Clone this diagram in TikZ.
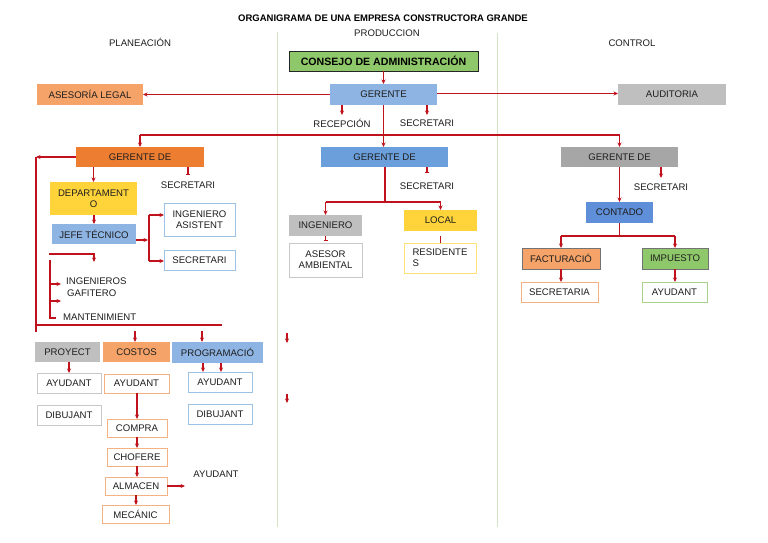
\documentclass[tikz,border=0pt]{standalone}
\usepackage{fontspec}
\setmainfont{Liberation Sans}
\usetikzlibrary{arrows.meta,calc}
\definecolor{arrred}{HTML}{C0121C}
\definecolor{txt}{HTML}{1E1E1E}
\definecolor{cgreen}{HTML}{8FC86A}
\definecolor{cgreenbd}{HTML}{A9D18E}
\definecolor{cblue}{HTML}{8EB4E3}
\definecolor{cbluebd}{HTML}{9DC3E6}
\definecolor{cblueM}{HTML}{6A9FDB}
\definecolor{cblueC}{HTML}{5F8FD8}
\definecolor{corange}{HTML}{F5A368}
\definecolor{corangeD}{HTML}{ED7D31}
\definecolor{corangebd}{HTML}{F4B183}
\definecolor{cgray}{HTML}{BFBFBF}
\definecolor{cgrayD}{HTML}{A6A6A6}
\definecolor{cgraybd}{HTML}{C8C8C8}
\definecolor{cyellow}{HTML}{FFD43B}
\definecolor{cyellowbd}{HTML}{FFE07A}
\definecolor{csep}{HTML}{D6E2C4}
\newcommand\fs{\fontsize{9.6}{10.8}\selectfont}
\newcommand\obox[7]{\node[box,#6,minimum width={(#4-#2)*1pt},minimum height={(#5-#3)*1pt}] (#1) at ({(#2+#4)/2},{(#3+#5)/2}) {#7};}
\tikzset{
  box/.style={inner sep=0pt,outer sep=0pt,font=\fs,text=txt,line width=0.9pt},
  lbl/.style={inner sep=0pt,font=\fs,text=txt},
  ln/.style={draw=arrred,line width=1.1pt},
  arr/.style={draw=arrred,line width=1.1pt,-{Stealth[length=4.5pt,width=4pt]}},
  tee/.style={draw=arrred,line width=1.1pt,-{Bar[width=4pt,line width=1.1pt]}},
  sep/.style={draw=csep,line width=0.8pt}
}
\begin{document}
\begin{tikzpicture}[x=1pt,y=-1pt]
\useasboundingbox[fill=white] (0,0) rectangle (768,543);
% separators
\draw[sep] (277,32) -- (277,527);
\draw[sep] (497,33) -- (497,527);
% titles
\node[inner sep=0pt,font=\bfseries\fontsize{9.5}{11}\selectfont,text=black] (title) at (383,18) {ORGANIGRAMA DE UNA EMPRESA CONSTRUCTORA GRANDE};
\node[lbl] (tprod) at (387,33) {PRODUCCION};
\node[lbl] (tplan) at (140,42) {PLANEACIÓN};
\node[lbl] (tctrl) at (632,43) {CONTROL};
% top
\obox{consejo}{289}{51}{478}{71}{fill=cgreen,draw=black!85,line width=0.7pt,font=\bfseries\fontsize{10.6}{12}\selectfont,text=black}{CONSEJO DE ADMINISTRACIÓN}
\obox{gerente}{330}{84}{437}{105}{fill=cblue}{GERENTE}
\obox{legal}{37}{84}{143}{105}{fill=corange}{ASESORÍA LEGAL}
\obox{audit}{618}{84}{726}{105}{fill=cgray}{AUDITORIA}
\draw[arr] (consejo.south -| gerente.north) -- (gerente.north);
\draw[arr] (gerente.west) -- (legal.east);
\draw[arr] ([yshift=1pt]gerente.east) -- ([yshift=1pt]audit.west);
\node[lbl] (recep) at (342,123) {RECEPCIÓN};
\node[lbl] (secg) at (427,123) {SECRETARI};
\draw[arr] (gerente.south -| recep) -- ++(0,10);
\draw[arr] (gerente.south -| secg) -- ++(0,10);
% managers
\obox{gplan}{76}{147}{204}{167}{fill=corangeD}{GERENTE DE}
\obox{gprod}{321}{147}{448}{167}{fill=cblueM}{GERENTE DE}
\obox{gctrl}{561}{147}{678}{167}{fill=cgrayD}{GERENTE DE}
\coordinate (bus) at (385,135);
\draw[arr] (gerente.south) -- (gerente.south |- gprod.north);
\draw[ln] (bus -| gplan.north) -- (bus -| gctrl.north);
\draw[arr] (bus -| gplan.north) -- (gplan.north);
\draw[arr] (bus -| gctrl.north) -- (gctrl.north);
% planeacion
\coordinate (lt) at (36,157);
\coordinate (lb) at (36,332);
\coordinate (bl) at (36,325);
\coordinate (br) at (222,325);
\draw[arr] (gplan.west) -- (lt);
\draw[ln] (lt) -- (lb);
\draw[ln] (bl) -- (br);
\obox{dept}{50}{182}{137}{215}{fill=cyellow,align=center}{DEPARTAMENT\\O}
\draw[arr] (gplan.south -| dept.north) -- (dept.north);
\node[lbl] (sec1) at (188,185) {SECRETARI};
\draw[tee] (gplan.south -| sec1) -- ++(0,8);
\obox{jefe}{52}{224}{136}{244}{fill=cblue}{JEFE TÉCNICO}
\draw[arr] (dept.south -| jefe.north) -- (jefe.north);
\obox{ingas}{164}{203}{235}{236}{draw=cbluebd,fill=white,align=center}{INGENIERO\\ASISTENT}
\obox{sec2}{164}{250}{235}{270}{draw=cbluebd,fill=white}{SECRETARI}
\coordinate (jt) at (149,215);
\coordinate (jb) at (149,261);
\draw[arr] ([yshift=-6pt]jefe.east) -- ++(12,0);
\draw[ln] (jt) -- (jb);
\draw[arr] (jt) -- (jt -| ingas.west);
\draw[arr] (jb) -- (jb -| sec2.west);
\coordinate (uj) at (49,254);
\coordinate (uk) at (94,262);
\draw[arr] (uj) -| (uk);
\coordinate (vt) at (50,260);
\coordinate (vb) at (50,318);
\coordinate (vf) at (56,318);
\draw[ln] (vt) -- (vb) -- (vf);
\coordinate (v1) at (50,284);
\coordinate (v1e) at (61,284);
\coordinate (v2) at (50,301);
\coordinate (v2e) at (61,301);
\draw[arr] (v1) -- (v1e);
\draw[arr] (v2) -- (v2e);
\node[lbl,anchor=west] (ingen) at (66,281) {INGENIEROS};
\node[lbl,anchor=west] (gafit) at (67,293) {GAFITERO};
\node[lbl,anchor=west] (mant) at (63,317) {MANTENIMIENT};
% bottom row
\obox{proy}{35}{342}{100}{362}{fill=cgray}{PROYECT}
\obox{costos}{103}{342}{170}{362}{fill=corange}{COSTOS}
\obox{prog}{172}{342}{263}{363}{fill=cblue}{PROGRAMACIÓ}
\coordinate (c1) at (135,331);
\coordinate (c2) at (202,331);
\draw[arr] (c1) -- (c1 |- costos.north);
\draw[arr] (c2) -- (c2 |- prog.north);
\obox{ay1}{37}{373}{101}{393}{draw=cgraybd}{AYUDANT}
\obox{dib1}{37}{405}{101}{425}{draw=cgraybd}{DIBUJANT}
\draw[arr] (ay1.north |- proy.south) -- (ay1.north);
\obox{ay2}{104}{374}{169}{393}{draw=corangebd}{AYUDANT}
\obox{compra}{107}{419}{167}{437}{draw=corangebd}{COMPRA}
\obox{chof}{107}{448}{167}{466}{draw=corangebd}{CHOFERE}
\obox{alm}{105}{477}{167}{495}{draw=corangebd}{ALMACEN}
\obox{mec}{102}{505}{169}{523}{draw=corangebd}{MECÁNIC}
\draw[arr,line width=1.6pt] (ay2.south -| compra.north) -- (compra.north);
\draw[arr] (compra.south) -- (compra.south |- chof.north);
\draw[arr] (chof.south) -- (chof.south |- alm.north);
\draw[arr] (alm.south) -- (alm.south |- mec.north);
\node[lbl] (ay4) at (216,474) {AYUDANT};
\coordinate (almend) at (185,486);
\draw[arr] (alm.east) -- (almend);
\obox{ay3}{188}{372}{252}{392}{draw=cbluebd}{AYUDANT}
\obox{dib3}{188}{404}{252}{424}{draw=cbluebd}{DIBUJANT}
\coordinate (p1) at (203,363);
\coordinate (p2) at (221,363);
\draw[arr] (p1) -- (p1 |- ay3.north);
\draw[arr] (p2) -- (p2 |- ay3.north);
% floating arrows
\coordinate (f1) at (287,333);
\coordinate (f1e) at (287,343);
\coordinate (f2) at (287,394);
\coordinate (f2e) at (287,403);
\draw[arr] (f1) -- (f1e);
\draw[arr] (f2) -- (f2e);
% produccion
\node[lbl] (sec3) at (427,186) {SECRETARI};
\draw[tee] (gprod.south -| sec3) -- ++(0,6);
\coordinate (pb) at (385,202);
\draw[ln] (gprod.south -| pb) -- (pb);
\obox{ing}{289}{215}{362}{236}{fill=cgray}{INGENIERO}
\obox{local}{404}{210}{477}{231}{fill=cyellow}{LOCAL}
\draw[ln] (pb -| ing.north) -- (pb -| local.north);
\draw[arr] (pb -| ing.north) -- (ing.north);
\draw[arr] (pb -| local.north) -- (local.north);
\obox{ases}{289}{243}{362}{277}{draw=cgraybd,align=center}{ASESOR\\AMBIENTAL}
\obox{resid}{404}{243}{476}{273}{draw=cyellowbd,align=left}{RESIDENTE\\S}
\draw[tee] (ing.south) -- ++(0,5);
\draw[ln] ([yshift=-5pt]local.south) -- (local.south |- resid.north);
% control
\node[lbl] (sec4) at (661,187) {SECRETARI};
\draw[arr] (gctrl.south -| sec4) -- ++(0,11);
\obox{cont}{586}{202}{653}{223}{fill=cblueC}{CONTADO}
\draw[arr] (gctrl.south -| cont.north) -- (cont.north);
\coordinate (cb) at (619.5,236);
\draw[ln] (cont.south) -- (cb);
\obox{fact}{522}{248}{600}{269}{fill=corange,draw=black!55,line width=0.5pt}{FACTURACIÓ}
\obox{imp}{642}{248}{708}{269}{fill=cgreen,draw=black!55,line width=0.5pt}{IMPUESTO}
\draw[ln] (cb -| fact.north) -- (cb -| imp.north);
\draw[arr] (cb -| fact.north) -- (fact.north);
\draw[arr] (cb -| imp.north) -- (imp.north);
\obox{secc}{521}{282}{598}{302}{draw=corangebd}{SECRETARIA}
\obox{ayc}{642}{282}{707}{302}{draw=cgreenbd}{AYUDANT}
\draw[arr] (fact.south) -- (fact.south |- secc.north);
\draw[arr] (imp.south) -- (imp.south |- ayc.north);
\end{tikzpicture}
\end{document}
